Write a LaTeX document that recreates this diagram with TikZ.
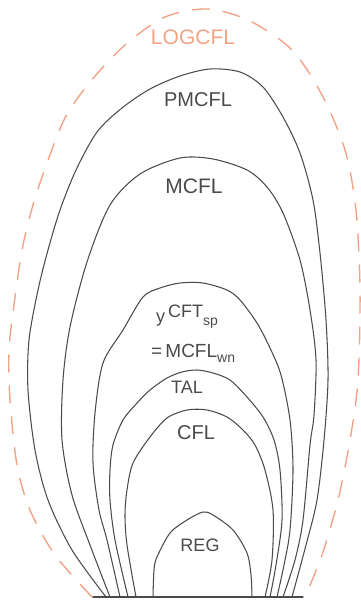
\documentclass[tikz,border=0pt]{standalone}
\usepackage{fontspec}
\setmainfont{Liberation Sans}
\usetikzlibrary{calc}
\definecolor{ink}{HTML}{4A4A4A}
\definecolor{salmon}{HTML}{F2A385}
\tikzset{
  setline/.style={draw=ink, line width=1.05pt, line cap=round, line join=round},
  outerset/.style={draw=salmon, line width=1.4pt, dash pattern=on 17pt off 14pt, line cap=round},
  setlabel/.style={inner sep=0pt, text=ink},
}
\newcommand{\lbl}[2]{\fontsize{#1}{#1}\selectfont #2}
\begin{document}
\begin{tikzpicture}[x=1pt,y=-1pt]
\useasboundingbox (0,0) rectangle (361,602);

% outer class, dashed
\draw[outerset] plot[smooth] coordinates {(92,597) (55,555) (30,510) (17,465) (10,400) (9,350) (14,305) (22,250) (33,205) (47,163) (65,118) (90,82) (125,45) (165,17) (208,9) (250,21) (292,50) (322,95) (345,150) (356,210) (360,290) (358,380) (350,440) (338,500) (322,555) (305,597)};

% PMCFL
\draw[setline] plot[smooth] coordinates {(106,597) (72,550) (48,500) (35,450) (28,390) (29,340) (38,290) (48,250) (60,210) (76,170) (97,132) (122,108) (150,89) (180,76) (210,69) (240,72) (263,87) (283,117) (300,153) (313,200) (320,253) (326,320) (328,380) (324,440) (317,500) (306,545) (292,597)};

% MCFL
\draw[setline] plot[smooth] coordinates {(110,597) (90,545) (72,495) (62,440) (63,380) (70,327) (87,262) (110,205) (140,174) (180,158) (213,159) (247,170) (267,187) (283,213) (300,260) (310,310) (316,360) (314,415) (310,445) (303,520) (295,560) (283,597)};

% yCFT_sp = MCFL_wn
\draw[setline] plot[smooth] coordinates {(120,597) (107,540) (99,510) (93,463) (95,413) (103,363) (123,330) (143,297) (160,288) (180,283) (203,283) (227,290) (240,300) (257,323) (270,348) (281,375) (290,420) (293,470) (290,530) (284,565) (277,597)};

% TAL
\draw[setline] plot[smooth] coordinates {(128,597) (115,540) (110,500) (110,470) (113,445) (123,420) (138,402) (150,390) (167,378) (182,372) (197,370) (213,373) (230,380) (247,397) (263,417) (274,440) (280,470) (282,520) (276,565) (270,597)};

% CFL
\draw[setline] plot[smooth] coordinates {(136,597) (127,545) (125,515) (127,490) (133,463) (150,437) (167,418) (187,410) (207,410) (227,417) (243,430) (255,445) (265,470) (273,510) (272,560) (265,597)};

% REG
\draw[setline] plot[smooth] coordinates {(153,597) (154,570) (157,557) (170,533) (187,520) (203,512) (213,515) (233,530) (247,553) (251,575) (252,597)};

% ground line
\coordinate (gl) at (93,597);
\coordinate (gr) at (303,597);
\draw[setline] (gl) -- (gr);

% labels
\node[setlabel, text=salmon] (logcfl) at (193,37) {\lbl{21}{LOGCFL}};
\node[setlabel] (pmcfl) at (198,100) {\lbl{20}{PMCFL}};
\node[setlabel] (mcfl) at (194,186) {\lbl{21}{MCFL}};
\node[setlabel, anchor=base west] (ycft) at (156,317) {\lbl{18}{\raisebox{-5pt}{y}\,CFT\raisebox{-8pt}{\lbl{14}{sp}}}};
\node[setlabel, anchor=base west] (mcflwn) at (151,357) {\lbl{19}{=\,MCFL\raisebox{-5pt}{\lbl{14}{wn}}}};
\node[setlabel] (tal) at (187,387) {\lbl{18}{TAL}};
\node[setlabel] (cfl) at (196,433) {\lbl{20}{CFL}};
\node[setlabel] (reg) at (200,545) {\lbl{18}{REG}};
\end{tikzpicture}
\end{document}
